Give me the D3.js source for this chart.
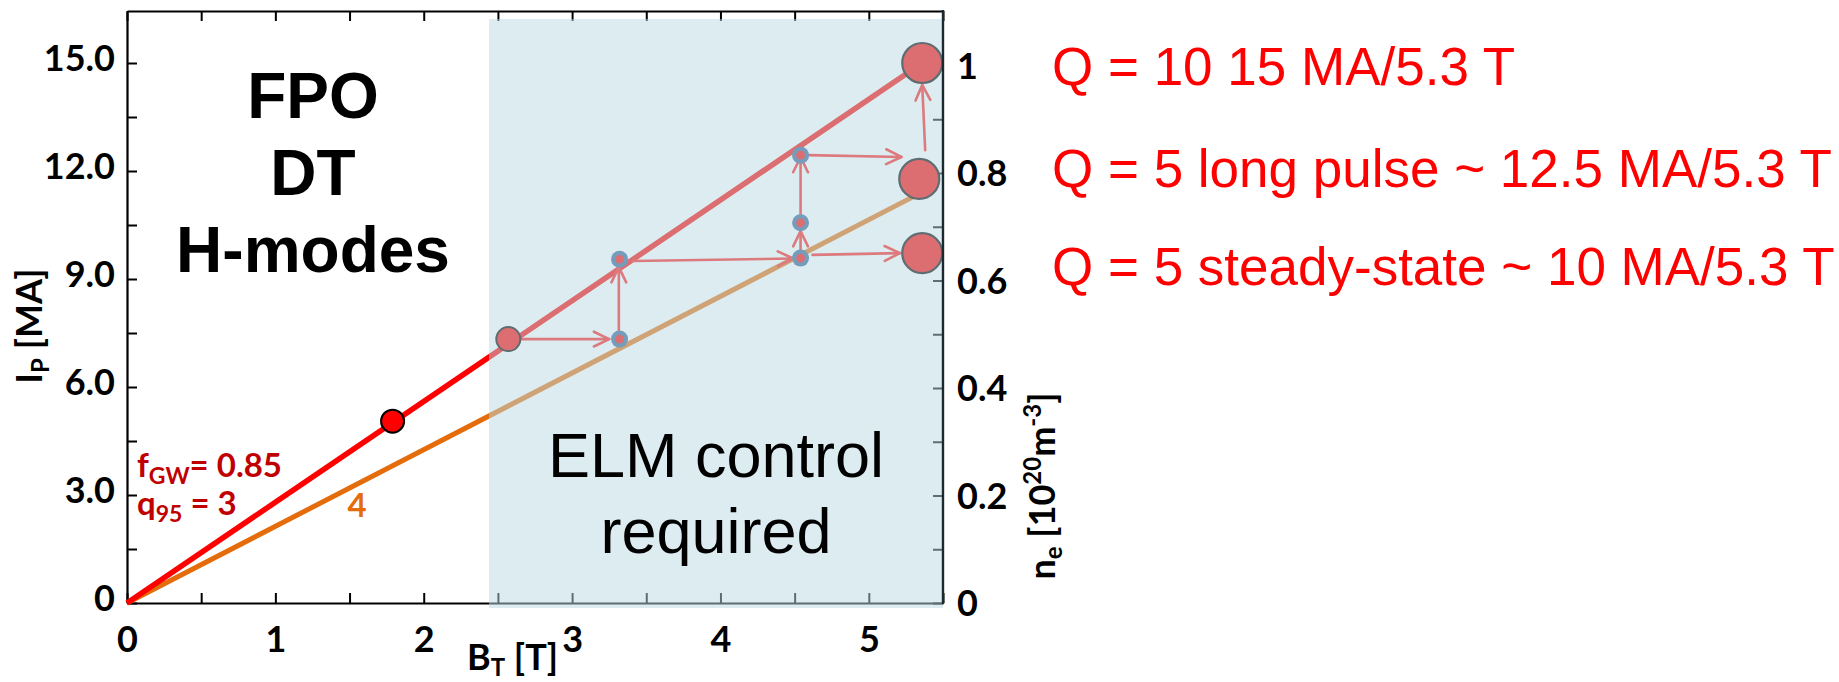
<!DOCTYPE html>
<html><head><meta charset="utf-8">
<script src="https://cdn.jsdelivr.net/npm/d3@7"></script>
<style>
html,body{margin:0;padding:0;background:#fff;}
svg{display:block;}
</style></head>
<body>
<svg id="chart" width="1839" height="682"></svg>
<script>
// Plasma current vs toroidal field: DT H-mode operating points and the
// staged path from the FPO point up to the Q = 10 reference scenario.

// axis ticks
const ipTicks = d3.range(0, 15.01, 1.5);      // I_P [MA], labelled every 3
const btTicks = d3.range(0, 5.51, 0.5);       // B_T [T], labelled every 1
const neTicks = d3.range(0, 1.001, 0.1);      // n_e [10^20 m^-3], labelled every 0.2

// constant-q95 lines (B_T, I_P)
const q3Line = [[0, 0], [5.36, 15.0]];        // f_GW = 0.85, q95 = 3
const q4Line = [[0, 0], [5.33, 11.35]];       // q95 = 4

// operating points (B_T, I_P)
const fpoPoint = [1.79, 5.05];
const startPoint = [2.57, 7.33];
const stepPoints = [[3.32, 7.33], [3.32, 9.55], [4.54, 9.58], [4.54, 10.56], [4.54, 12.44]];
const targetPoints = [[5.36, 15.0], [5.34, 11.78], [5.36, 9.72]];

// steps between operating points: [B_T from, I_P from, B_T to, I_P to]
const steps = [
  [2.65, 7.33, 3.25, 7.33],
  [3.315, 7.56, 3.315, 9.33],
  [3.41, 9.50, 4.49, 9.57],
  [4.54, 9.80, 4.54, 10.33],
  [4.54, 10.78, 4.54, 12.39],
  [4.59, 12.44, 5.22, 12.39],
  [4.62, 9.67, 5.21, 9.72],
  [5.38, 12.58, 5.36, 14.39]
];

const elmBoundary = 2.44;                      // B_T above which ELM control is needed
const targetLabels = ["Q = 10 15 MA/5.3 T",
                      "Q = 5 long pulse ~ 12.5 MA/5.3 T",
                      "Q = 5 steady-state ~ 10 MA/5.3 T"];

// ---- layout ----
const plotLeft = 127, plotRight = 943, plotTop = 11, plotBottom = 603;
const x = d3.scaleLinear().domain([0, 5.5]).range([plotLeft, plotRight]);
const y = d3.scaleLinear().domain([0, 592 / 36]).range([plotBottom, plotTop]);
const yR = d3.scaleLinear().domain([0, 592 / 537.5]).range([plotBottom, plotTop]);

const svg = d3.select("#chart");
const tickFont = "Lato, 'Open Sans', sans-serif";
const near = (a, b) => Math.abs(a - b) < 1e-6;

// ---- axes ----
function styleAxis(g) {
  g.selectAll("path.domain").attr("stroke", "#000").attr("stroke-width", 2.2);
  g.selectAll(".tick line").attr("stroke", "#000").attr("stroke-width", 2);
  g.selectAll(".tick text").attr("fill", "#000").attr("font-family", tickFont)
    .attr("font-weight", 700).attr("font-size", 36);
}

const axisL = svg.append("g").attr("transform", `translate(${plotLeft},0)`)
  .call(d3.axisLeft(y).tickValues(ipTicks).tickSizeInner(-10).tickSizeOuter(0).tickPadding(12)
    .tickFormat(v => near(v % 3, 0) || near(v % 3, 3) ? (v === 0 ? "0" : v.toFixed(1)) : ""));
styleAxis(axisL);
axisL.selectAll(".tick text").attr("dy", "0.2em");

const axisB = svg.append("g").attr("transform", `translate(0,${plotBottom})`)
  .call(d3.axisBottom(x).tickValues(btTicks).tickSizeInner(-10).tickSizeOuter(0).tickPadding(23)
    .tickFormat(v => Number.isInteger(v) ? String(v) : ""));
styleAxis(axisB);

const axisT = svg.append("g").attr("transform", `translate(0,${plotTop})`)
  .call(d3.axisTop(x).tickValues(btTicks).tickSizeInner(-10).tickSizeOuter(0).tickFormat(""));
styleAxis(axisT);

const axisR = svg.append("g").attr("transform", `translate(${plotRight},0)`)
  .call(d3.axisRight(yR).tickValues(neTicks).tickSizeInner(-10).tickSizeOuter(0).tickPadding(14)
    .tickFormat(v => {
      const k = Math.round(v * 10);
      if (k % 2) return "";
      return k === 0 ? "0" : k === 10 ? "1" : (k / 10).toFixed(1);
    }));
styleAxis(axisR);
axisR.select("path.domain").remove();
axisR.selectAll(".tick text").attr("dy", "0.36em");

// ---- q95 lines ----
const line = d3.line().x(d => x(d[0])).y(d => y(d[1]));
svg.append("path").datum(q4Line).attr("d", line)
  .attr("stroke", "#e46c0a").attr("stroke-width", 5).attr("fill", "none");
svg.append("path").datum(q3Line).attr("d", line)
  .attr("stroke", "#ff0000").attr("stroke-width", 5.5).attr("fill", "none");

// ---- steps ----
const red = "#ff1a1a";
function arrow(g, s) {
  const x0 = x(s[0]), y0 = y(s[1]), x1 = x(s[2]), y1 = y(s[3]);
  const a = Math.atan2(y1 - y0, x1 - x0), L = 17, w = 0.45;
  g.append("line").attr("x1", x0).attr("y1", y0).attr("x2", x1).attr("y2", y1);
  g.append("path").attr("d",
    `M${x1 - L * Math.cos(a - w)},${y1 - L * Math.sin(a - w)}L${x1},${y1}` +
    `L${x1 - L * Math.cos(a + w)},${y1 - L * Math.sin(a + w)}`);
}
const arrows = svg.append("g").attr("stroke", red).attr("stroke-width", 2.6)
  .attr("fill", "none").attr("stroke-linecap", "round").attr("stroke-linejoin", "round");
steps.forEach(s => arrow(arrows, s));

// ---- operating points ----
svg.append("circle").attr("cx", x(fpoPoint[0])).attr("cy", y(fpoPoint[1])).attr("r", 11.5)
  .attr("fill", "#ff0000").attr("stroke", "#000").attr("stroke-width", 2);
svg.append("circle").attr("cx", x(startPoint[0])).attr("cy", y(startPoint[1])).attr("r", 12)
  .attr("fill", "#ff0000").attr("stroke", "#000").attr("stroke-width", 2);
svg.selectAll("circle.step-ring").data(stepPoints).join("circle").attr("class", "step-ring")
  .attr("cx", d => x(d[0])).attr("cy", d => y(d[1])).attr("r", 8.5).attr("fill", "#335e95");
svg.selectAll("circle.step-core").data(stepPoints).join("circle").attr("class", "step-core")
  .attr("cx", d => x(d[0])).attr("cy", d => y(d[1])).attr("r", 4.3).attr("fill", "#ff0000");
svg.selectAll("circle.target").data(targetPoints).join("circle").attr("class", "target")
  .attr("cx", d => x(d[0])).attr("cy", d => y(d[1])).attr("r", 20)
  .attr("fill", "#ff0000").attr("stroke", "#000").attr("stroke-width", 2.2);

// ---- ELM-control region (translucent wash over everything beneath) ----
svg.append("rect")
  .attr("x", x(elmBoundary)).attr("y", plotTop + 8)
  .attr("width", x(5.5) - x(elmBoundary)).attr("height", plotBottom + 5 - (plotTop + 8))
  .attr("fill", "rgb(186,218,225)").attr("fill-opacity", 0.5);

// right frame line
svg.append("line").attr("x1", plotRight).attr("x2", plotRight)
  .attr("y1", plotTop - 1).attr("y2", plotBottom + 1)
  .attr("stroke", "#1a2a30").attr("stroke-width", 2.4);

// ---- annotations ----
const sans = "'Liberation Sans', Arial, sans-serif";
const fpo = svg.append("text").attr("font-family", sans).attr("font-weight", 700)
  .attr("font-size", 64).attr("text-anchor", "middle").attr("fill", "#000");
["FPO", "DT", "H-modes"].forEach((t, i) =>
  fpo.append("tspan").attr("x", 313).attr("y", 118 + i * 77).text(t));

const elm = svg.append("text").attr("font-family", sans).attr("font-size", 63)
  .attr("text-anchor", "middle").attr("fill", "#000");
["ELM control", "required"].forEach((t, i) =>
  elm.append("tspan").attr("x", 716).attr("y", 477 + i * 76).text(t));

svg.selectAll("text.target-label").data(targetLabels).join("text").attr("class", "target-label")
  .attr("x", 1052).attr("y", (d, i) => [85, 187, 285][i])
  .attr("font-family", sans).attr("font-size", 53).attr("fill", "#ff0000").text(d => d);

// q95 line labels
const fgw = svg.append("text").attr("x", 137).attr("y", 477).attr("font-family", tickFont)
  .attr("font-weight", 700).attr("font-size", 33).attr("fill", "#c00000");
fgw.append("tspan").text("f");
fgw.append("tspan").attr("font-size", 23).attr("dy", 7).text("GW");
fgw.append("tspan").attr("dy", -7).text("= 0.85");
const q95 = svg.append("text").attr("x", 137).attr("y", 515).attr("font-family", tickFont)
  .attr("font-weight", 700).attr("font-size", 33).attr("fill", "#c00000");
q95.append("tspan").text("q");
q95.append("tspan").attr("font-size", 23).attr("dy", 7).text("95");
q95.append("tspan").attr("dy", -7).text(" = 3");
svg.append("text").attr("x", 357).attr("y", 517).attr("text-anchor", "middle")
  .attr("font-family", tickFont).attr("font-weight", 700).attr("font-size", 33)
  .attr("fill", "#e46c0a").text("4");

// axis titles
const ipTitle = svg.append("text").attr("transform", "translate(42,326) rotate(-90)")
  .attr("text-anchor", "middle").attr("font-family", tickFont).attr("font-weight", 700)
  .attr("font-size", 36).attr("fill", "#000");
ipTitle.append("tspan").text("I");
ipTitle.append("tspan").attr("font-size", 24).attr("dy", 7).text("P");
ipTitle.append("tspan").attr("dy", -7).text(" [MA]");

const btTitle = svg.append("text").attr("x", 467).attr("y", 670)
  .attr("font-family", tickFont).attr("font-weight", 700).attr("font-size", 36).attr("fill", "#000");
btTitle.append("tspan").text("B");
btTitle.append("tspan").attr("font-size", 24).attr("dy", 6).text("T");
btTitle.append("tspan").attr("dy", -6).text(" [T]");

const neTitle = svg.append("text").attr("transform", "translate(1055,486) rotate(-90)")
  .attr("text-anchor", "middle").attr("font-family", tickFont).attr("font-weight", 700)
  .attr("font-size", 36).attr("fill", "#000");
neTitle.append("tspan").text("n");
neTitle.append("tspan").attr("font-size", 24).attr("dy", 7).text("e");
neTitle.append("tspan").attr("dy", -7).text(" [10");
neTitle.append("tspan").attr("font-size", 24).attr("dy", -14).text("20");
neTitle.append("tspan").attr("dy", 14).text("m");
neTitle.append("tspan").attr("font-size", 24).attr("dy", -14).text("-3");
neTitle.append("tspan").attr("dy", 14).text("]");
</script>
</body></html>
